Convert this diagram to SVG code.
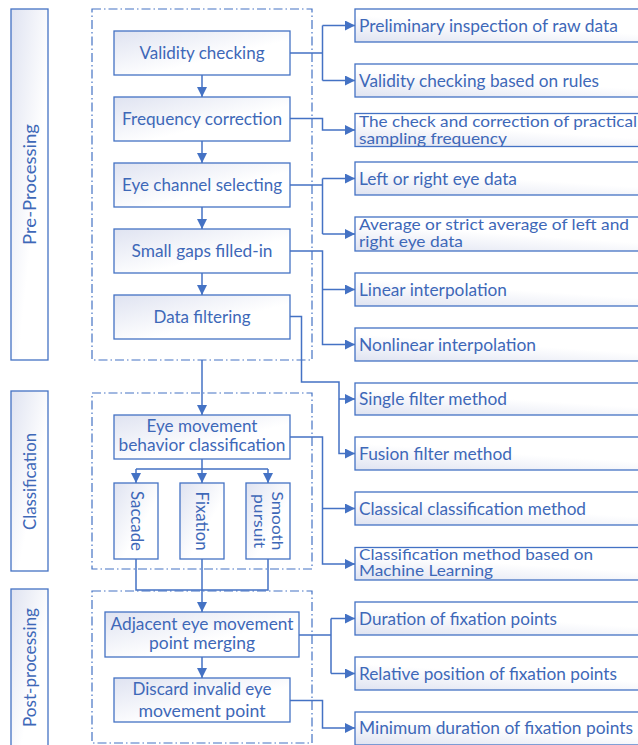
<svg xmlns="http://www.w3.org/2000/svg" width="638" height="745" viewBox="0 0 638 745">
<style>
.box{fill:url(#g);stroke:#4472C4;stroke-width:1.3}
.rbox{fill:url(#gr);stroke:#4472C4;stroke-width:1.3}
.grp{fill:none;stroke:#4472C4;stroke-width:1.2;stroke-dasharray:9 3 1.5 3}
.ln{fill:none;stroke:#4472C4;stroke-width:1.5}
.ar{marker-end:url(#ah)}
text{font-family:Lato,"Liberation Sans",sans-serif;font-size:17px;fill:#3E68B8}
.c{text-anchor:middle}
.s2{font-size:15px}
.s3{font-size:15px}
</style>
<defs>
<linearGradient id="g" x1="0" y1="0" x2="1" y2="1">
<stop offset="0" stop-color="#dfe3f1"/><stop offset="0.6" stop-color="#ffffff"/><stop offset="1" stop-color="#ffffff"/>
</linearGradient>
<linearGradient id="gr" x1="0" y1="1" x2="0.6" y2="0">
<stop offset="0" stop-color="#dfe3f1"/><stop offset="0.6" stop-color="#ffffff"/><stop offset="1" stop-color="#ffffff"/>
</linearGradient>
<marker id="ah" markerUnits="userSpaceOnUse" markerWidth="10" markerHeight="10" viewBox="0 0 10 10" refX="10" refY="5" orient="auto">
<path d="M0,0 L10,5 L0,10 z" fill="#4472C4"/>
</marker>
</defs>

<g id="phase-pre"><rect class="box" x="11" y="9" width="37" height="351"/><text class="c" transform="translate(29.8,184.5) rotate(-90)" y="6" textLength="121" lengthAdjust="spacingAndGlyphs">Pre-Processing</text></g>
<g id="phase-class"><rect class="box" x="11" y="391" width="37" height="180"/><text class="c" transform="translate(29.8,481.5) rotate(-90)" y="6" textLength="97" lengthAdjust="spacingAndGlyphs">Classification</text></g>
<g id="phase-post"><rect class="box" x="11" y="589" width="37" height="170"/><text class="c" transform="translate(29.8,667.5) rotate(-90)" y="6" textLength="119" lengthAdjust="spacingAndGlyphs">Post-processing</text></g>

<g id="group-pre"><rect class="grp" x="92" y="9" width="220" height="351"/></g>
<g id="group-class"><rect class="grp" x="92" y="393" width="220" height="176"/></g>
<g id="group-post"><rect class="grp" x="92" y="591" width="220" height="152"/></g>

<g id="n-validity"><rect class="box" x="114" y="31" width="176" height="44"/><text class="c" x="202" y="59" textLength="125" lengthAdjust="spacingAndGlyphs">Validity checking</text></g>
<g id="n-frequency"><rect class="box" x="114" y="97" width="176" height="44"/><text class="c" x="202" y="125" textLength="160" lengthAdjust="spacingAndGlyphs">Frequency correction</text></g>
<g id="n-channel"><rect class="box" x="114" y="163" width="176" height="44"/><text class="c" x="202" y="191" textLength="160" lengthAdjust="spacingAndGlyphs">Eye channel selecting</text></g>
<g id="n-gaps"><rect class="box" x="114" y="229" width="176" height="44"/><text class="c" x="202" y="257" textLength="141" lengthAdjust="spacingAndGlyphs">Small gaps filled-in</text></g>
<g id="n-filter"><rect class="box" x="114" y="295" width="176" height="44"/><text class="c" x="202" y="323" textLength="97" lengthAdjust="spacingAndGlyphs">Data filtering</text></g>
<g id="n-classify"><rect class="box" x="114" y="415" width="176" height="44"/><text class="c" x="202" y="432.2" textLength="111" lengthAdjust="spacingAndGlyphs">Eye movement</text><text class="c" x="202" y="451.4" textLength="167" lengthAdjust="spacingAndGlyphs">behavior classification</text></g>
<g id="n-saccade"><rect class="box" x="114" y="483" width="44" height="76"/><text class="c" transform="translate(136,521) rotate(90)" y="5.5" textLength="60" lengthAdjust="spacingAndGlyphs">Saccade</text></g>
<g id="n-fixation"><rect class="box" x="180" y="483" width="44" height="76"/><text class="c" transform="translate(202,521) rotate(90)" y="6" textLength="59" lengthAdjust="spacingAndGlyphs">Fixation</text></g>
<g id="n-smooth"><rect class="box" x="246" y="483" width="44" height="76"/><text class="c s3" transform="translate(268,521) rotate(90)" y="-4" textLength="59" lengthAdjust="spacingAndGlyphs">Smooth</text><text class="c s3" transform="translate(268,521) rotate(90)" y="14" textLength="54" lengthAdjust="spacingAndGlyphs">pursuit</text></g>
<g id="n-merge"><rect class="box" x="105" y="612" width="194" height="45"/><text class="c" x="202" y="630" textLength="183" lengthAdjust="spacingAndGlyphs">Adjacent eye movement</text><text class="c" x="202" y="649.2" textLength="106" lengthAdjust="spacingAndGlyphs">point merging</text></g>
<g id="n-discard"><rect class="box" x="114" y="678" width="176" height="44"/><text class="c" x="202" y="695" textLength="139" lengthAdjust="spacingAndGlyphs">Discard invalid eye</text><text class="c" x="202" y="717" textLength="127" lengthAdjust="spacingAndGlyphs">movement point</text></g>

<g id="r-prelim"><rect class="rbox" x="355" y="9" width="295" height="33"/><text x="359" y="31.5" textLength="259" lengthAdjust="spacingAndGlyphs">Preliminary inspection of raw data</text></g>
<g id="r-rules"><rect class="rbox" x="355" y="64" width="295" height="33"/><text x="359" y="86.5" textLength="240" lengthAdjust="spacingAndGlyphs">Validity checking based on rules</text></g>
<g id="r-check"><rect class="rbox" x="355" y="113.5" width="295" height="33"/><text class="s2" x="359" y="126.8" textLength="278" lengthAdjust="spacingAndGlyphs">The check and correction of practical</text><text class="s2" x="359" y="143.5" textLength="148" lengthAdjust="spacingAndGlyphs">sampling frequency</text></g>
<g id="r-leftright"><rect class="rbox" x="355" y="162" width="295" height="33"/><text x="359" y="184.5" textLength="158" lengthAdjust="spacingAndGlyphs">Left or right eye data</text></g>
<g id="r-average"><rect class="rbox" x="355" y="217" width="295" height="34"/><text class="s2" x="359" y="229.8" textLength="270" lengthAdjust="spacingAndGlyphs">Average or strict average of left and</text><text class="s2" x="359" y="246.5" textLength="104" lengthAdjust="spacingAndGlyphs">right eye data</text></g>
<g id="r-linear"><rect class="rbox" x="355" y="273" width="295" height="33"/><text x="359" y="295.5" textLength="148" lengthAdjust="spacingAndGlyphs">Linear interpolation</text></g>
<g id="r-nonlinear"><rect class="rbox" x="355" y="328" width="295" height="33"/><text x="359" y="350.5" textLength="177" lengthAdjust="spacingAndGlyphs">Nonlinear interpolation</text></g>
<g id="r-single"><rect class="rbox" x="355" y="383" width="295" height="32"/><text x="359" y="405" textLength="148" lengthAdjust="spacingAndGlyphs">Single filter method</text></g>
<g id="r-fusion"><rect class="rbox" x="355" y="437" width="295" height="33"/><text x="359" y="459.5" textLength="153" lengthAdjust="spacingAndGlyphs">Fusion filter method</text></g>
<g id="r-classical"><rect class="rbox" x="355" y="492" width="295" height="33"/><text x="359" y="514.5" textLength="227" lengthAdjust="spacingAndGlyphs">Classical classification method</text></g>
<g id="r-ml"><rect class="rbox" x="355" y="547.5" width="295" height="32.5"/><text class="s2" x="359" y="559.6" textLength="234" lengthAdjust="spacingAndGlyphs">Classification method based on</text><text class="s2" x="359" y="576.3" textLength="134" lengthAdjust="spacingAndGlyphs">Machine Learning</text></g>
<g id="r-duration"><rect class="rbox" x="355" y="602" width="295" height="33"/><text x="359" y="624.5" textLength="198" lengthAdjust="spacingAndGlyphs">Duration of fixation points</text></g>
<g id="r-relative"><rect class="rbox" x="355" y="657" width="295" height="33"/><text x="359" y="679.5" textLength="258" lengthAdjust="spacingAndGlyphs">Relative position of fixation points</text></g>
<g id="r-minimum"><rect class="rbox" x="355" y="712" width="295" height="33"/><text x="359" y="734" textLength="274" lengthAdjust="spacingAndGlyphs">Minimum duration of fixation points</text></g>

<g id="connectors">
<path class="ln" d="M290,53 H322.5 M322.5,25.5 V80.5"/>
<path class="ln ar" d="M322.5,25.5 H355"/>
<path class="ln ar" d="M322.5,80.5 H355"/>
<path class="ln ar" d="M290,118.5 H322.5 V130 H355"/>
<path class="ln" d="M290,185 H322.5 M322.5,178.5 V234"/>
<path class="ln ar" d="M322.5,178.5 H355"/>
<path class="ln ar" d="M322.5,234 H355"/>
<path class="ln ar" d="M290,251 H322.5 V344.5 H355"/>
<path class="ln ar" d="M322.5,289.5 H355"/>
<path class="ln ar" d="M290,316.5 H301.5 V382 H339 V453.5 H355"/>
<path class="ln ar" d="M339,399 H355"/>
<path class="ln ar" d="M290,437 H322.5 V564 H355"/>
<path class="ln ar" d="M322.5,508.5 H355"/>
<path class="ln" d="M299,635 H331 M331,618.5 V673.5"/>
<path class="ln ar" d="M331,618.5 H355"/>
<path class="ln ar" d="M331,673.5 H355"/>
<path class="ln ar" d="M290,700.5 H322.5 V728 H355"/>
<path class="ln ar" d="M202,75 V97"/>
<path class="ln ar" d="M202,141 V163"/>
<path class="ln ar" d="M202,207 V229"/>
<path class="ln ar" d="M202,273 V295"/>
<path class="ln ar" d="M202,360 V415"/>
<path class="ln" d="M202,459 V469 M136,469 H268"/>
<path class="ln ar" d="M136,469 V483"/>
<path class="ln ar" d="M202,469 V483"/>
<path class="ln ar" d="M268,469 V483"/>
<path class="ln" d="M136,559 V590 H268 V559"/>
<path class="ln ar" d="M202,559 V612"/>
<path class="ln ar" d="M202,657 V678"/>
</g>
</svg>
